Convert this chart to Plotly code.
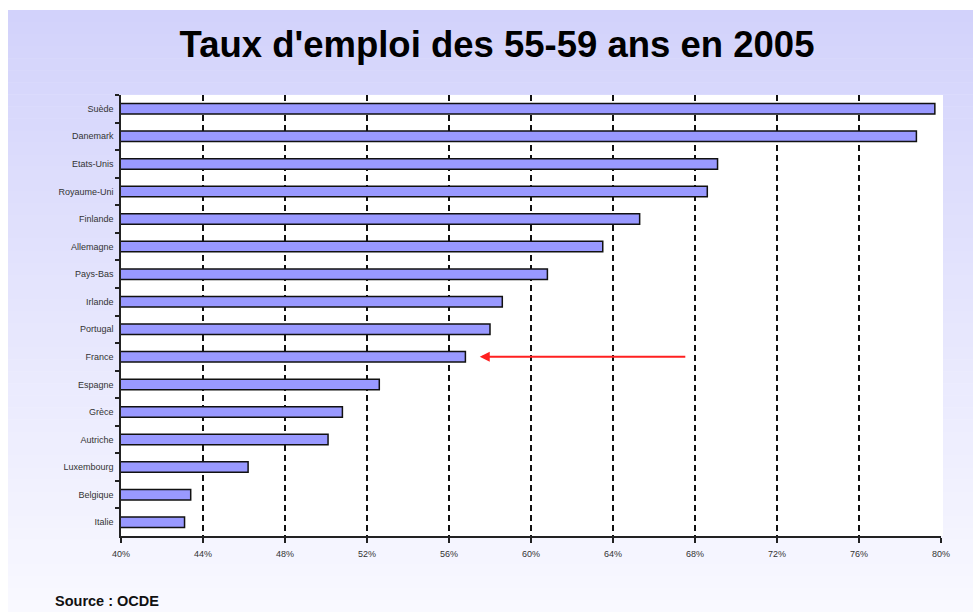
import plotly.graph_objects as go

# ---- data ----
countries = ["Suède", "Danemark", "Etats-Unis", "Royaume-Uni", "Finlande", "Allemagne",
             "Pays-Bas", "Irlande", "Portugal", "France", "Espagne", "Grèce",
             "Autriche", "Luxembourg", "Belgique", "Italie"]
taux = [79.7, 78.8, 69.1, 68.6, 65.3, 63.5, 60.8, 58.6, 58.0, 56.8, 52.6, 50.8, 50.1, 46.2, 43.4, 43.1]
x_ticks = [40, 44, 48, 52, 56, 60, 64, 68, 72, 76, 80]
x_tick_labels = [f"{v}%" for v in x_ticks]
arrow_country = "France"
arrow_tail_value = 67.6
arrow_tip_value = 57.5

W, H = 973, 612
L, R, T, B = 121, 32, 95, 76
PW, PH = W - L - R, H - T - B

def px_to_paper_x(px):
    return (px - L) / PW

def px_to_paper_y(py):
    return (H - B - py) / PH

fig = go.Figure()
fig.add_trace(go.Bar(
    y=countries, x=taux, orientation="h", base=0,
    width=0.38,
    marker=dict(color="#9999ff", line=dict(color="#111111", width=1.5)),
    hoverinfo="x+y",
))

# gradient background (lavender -> near white)
shapes = []
top_c = (210, 210, 251)
bot_c = (249, 249, 255)
y_start, y_end = 10, H
n = 50
for i in range(n):
    y0 = y_start + (y_end - y_start) * i / n
    y1 = y_start + (y_end - y_start) * (i + 1) / n + 0.5
    t = (i + 0.5) / n
    c = tuple(round(top_c[k] + (bot_c[k] - top_c[k]) * t) for k in range(3))
    shapes.append(dict(type="rect", xref="paper", yref="paper",
                       x0=px_to_paper_x(8), x1=px_to_paper_x(W + 5),
                       y0=px_to_paper_y(y1), y1=px_to_paper_y(y0),
                       fillcolor=f"rgb{c}", line=dict(width=0), layer="below"))
# white plot area
shapes.append(dict(type="rect", xref="paper", yref="paper",
                   x0=0, x1=px_to_paper_x(943), y0=0, y1=1,
                   fillcolor="white", line=dict(width=0), layer="below"))

fig.update_layout(
    width=W, height=H,
    margin=dict(l=L, r=R, t=T, b=B, pad=0),
    paper_bgcolor="white",
    plot_bgcolor="white",
    showlegend=False,
    bargap=0.6,
    shapes=shapes,
    font=dict(family="Liberation Sans, Arial, sans-serif", color="#222222"),
    title=dict(text="Taux d'emploi des 55-59 ans en 2005",
               x=497 / W, xanchor="center", xref="container",
               y=1 - 44 / H, yanchor="middle", yref="container",
               font=dict(family="Liberation Sans, Arial",
                         size=36.5, color="#000000", weight="bold")),
    xaxis=dict(range=[40, 80], tickvals=x_ticks, ticktext=x_tick_labels,
               showgrid=True, gridcolor="#111111", gridwidth=1.5, griddash="6px,4px",
               showline=True, linecolor="#222222", linewidth=1.5,
               ticks="outside", ticklen=5, tickwidth=1.5, tickcolor="#222222",
               tickfont=dict(size=9, color="#333333"), ticklabelstandoff=3,
               zeroline=False, fixedrange=True),
    yaxis=dict(autorange="reversed", type="category",
               showgrid=False, showline=True, linecolor="#222222", linewidth=1.5,
               ticks="outside", ticklen=4, tickwidth=1.5, tickcolor="#222222",
               tickson="boundaries", ticklabelstandoff=4,
               tickfont=dict(size=9, color="#333333"),
               zeroline=False, fixedrange=True),
    annotations=[
        dict(x=arrow_tip_value, y=arrow_country, xref="x", yref="y",
             ax=arrow_tail_value, ay=arrow_country, axref="x", ayref="y",
             text="", showarrow=True, arrowhead=2, arrowsize=1, arrowwidth=2,
             arrowcolor="#ff2020", standoff=0),
        dict(text="Source : OCDE", xref="paper", yref="paper",
             x=px_to_paper_x(53), y=px_to_paper_y(601), xanchor="left", yanchor="middle",
             showarrow=False, font=dict(size=14.5, color="#111111", weight="bold")),
    ],
)

fig.write_html("out.html", config={"displayModeBar": False},
               post_script="document.body.style.margin='0';")
